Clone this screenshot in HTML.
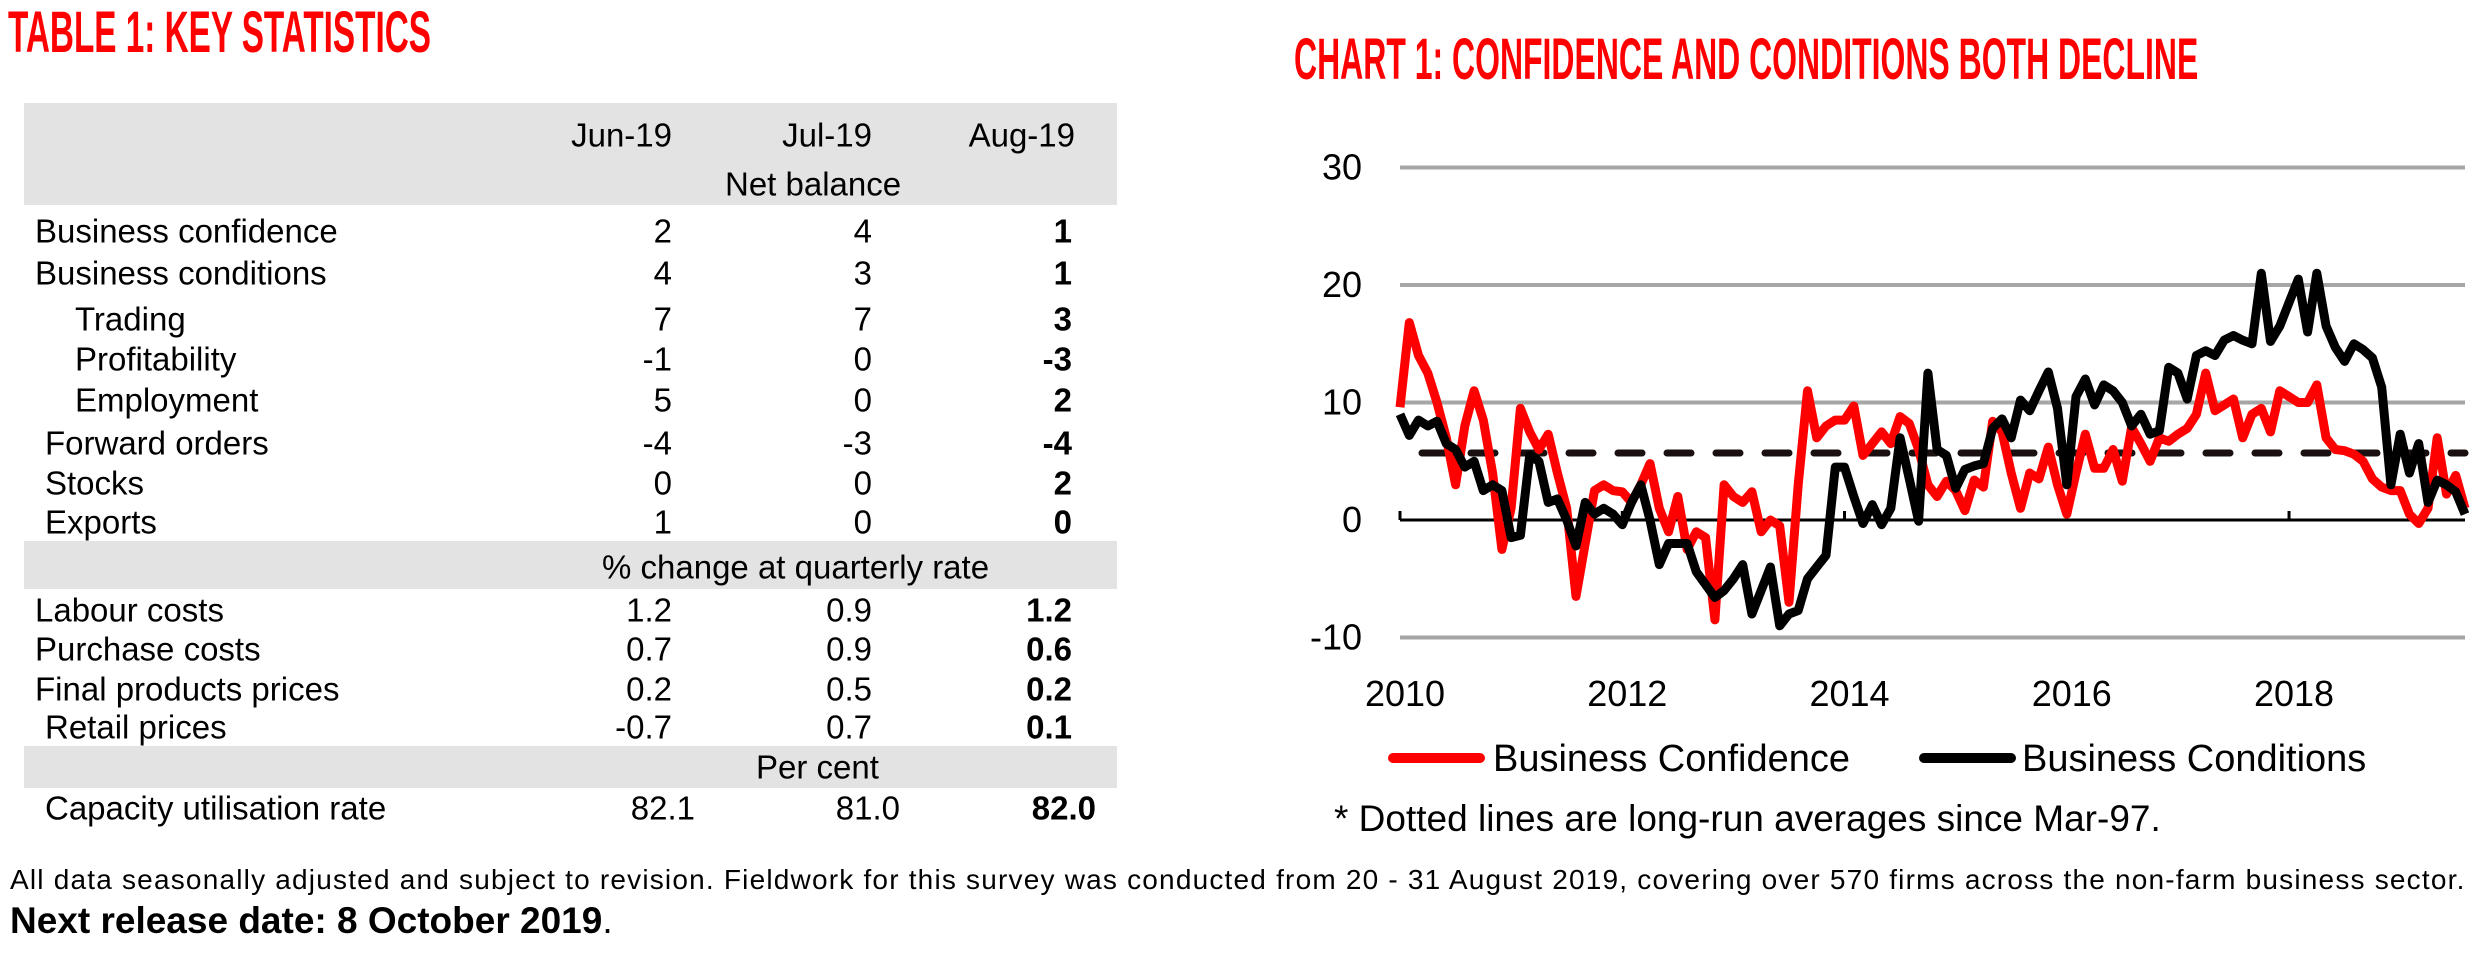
<!DOCTYPE html>
<html><head><meta charset="utf-8"><style>
body{margin:0;width:2490px;height:960px;background:#fff;position:relative;overflow:hidden;font-family:"Liberation Sans",sans-serif;color:#000}
.t{position:absolute;white-space:nowrap;line-height:1}
.title{color:#ff0000;font-weight:bold;font-size:58px;transform-origin:0 0}
.row{position:absolute;left:0;width:1120px;font-size:33px;line-height:1}
.row span{position:absolute;white-space:nowrap;transform:translateY(-50%)}
.v{text-align:right;width:120px}
.band{position:absolute;left:24px;width:1093px;background:#e3e3e3}
</style></head><body>
<div class="t title" style="left:8px;top:4px;transform:scaleX(0.574)">TABLE 1: KEY STATISTICS</div>
<div class="t title" style="left:1294px;top:31px;transform:scaleX(0.551)">CHART 1: CONFIDENCE AND CONDITIONS BOTH DECLINE</div>

<div class="band" style="top:103px;height:102px"></div>
<div class="band" style="top:541px;height:48px"></div>
<div class="band" style="top:746px;height:42px"></div>

<div>
<div class="row" style="top:135px"><span class="v" style="left:552px">Jun-19</span><span class="v" style="left:752px">Jul-19</span><span class="v" style="left:955px">Aug-19</span></div>
<div class="row" style="top:184px"><span style="left:725px">Net balance</span></div>
<div class="row" style="top:231px"><span style="left:35px">Business confidence</span><span class="v" style="left:552px">2</span><span class="v" style="left:752px">4</span><span class="v" style="left:952px;font-weight:bold">1</span></div>
<div class="row" style="top:273px"><span style="left:35px">Business conditions</span><span class="v" style="left:552px">4</span><span class="v" style="left:752px">3</span><span class="v" style="left:952px;font-weight:bold">1</span></div>
<div class="row" style="top:319px"><span style="left:75px">Trading</span><span class="v" style="left:552px">7</span><span class="v" style="left:752px">7</span><span class="v" style="left:952px;font-weight:bold">3</span></div>
<div class="row" style="top:359px"><span style="left:75px">Profitability</span><span class="v" style="left:552px">-1</span><span class="v" style="left:752px">0</span><span class="v" style="left:952px;font-weight:bold">-3</span></div>
<div class="row" style="top:400px"><span style="left:75px">Employment</span><span class="v" style="left:552px">5</span><span class="v" style="left:752px">0</span><span class="v" style="left:952px;font-weight:bold">2</span></div>
<div class="row" style="top:443px"><span style="left:45px">Forward orders</span><span class="v" style="left:552px">-4</span><span class="v" style="left:752px">-3</span><span class="v" style="left:952px;font-weight:bold">-4</span></div>
<div class="row" style="top:483px"><span style="left:45px">Stocks</span><span class="v" style="left:552px">0</span><span class="v" style="left:752px">0</span><span class="v" style="left:952px;font-weight:bold">2</span></div>
<div class="row" style="top:522px"><span style="left:45px">Exports</span><span class="v" style="left:552px">1</span><span class="v" style="left:752px">0</span><span class="v" style="left:952px;font-weight:bold">0</span></div>
<div class="row" style="top:567px"><span style="left:602px">% change at quarterly rate</span></div>
<div class="row" style="top:610px"><span style="left:35px">Labour costs</span><span class="v" style="left:552px">1.2</span><span class="v" style="left:752px">0.9</span><span class="v" style="left:952px;font-weight:bold">1.2</span></div>
<div class="row" style="top:649px"><span style="left:35px">Purchase costs</span><span class="v" style="left:552px">0.7</span><span class="v" style="left:752px">0.9</span><span class="v" style="left:952px;font-weight:bold">0.6</span></div>
<div class="row" style="top:689px"><span style="left:35px">Final products prices</span><span class="v" style="left:552px">0.2</span><span class="v" style="left:752px">0.5</span><span class="v" style="left:952px;font-weight:bold">0.2</span></div>
<div class="row" style="top:727px"><span style="left:45px">Retail prices</span><span class="v" style="left:552px">-0.7</span><span class="v" style="left:752px">0.7</span><span class="v" style="left:952px;font-weight:bold">0.1</span></div>
<div class="row" style="top:767px"><span style="left:756px">Per cent</span></div>
<div class="row" style="top:808px"><span style="left:45px">Capacity utilisation rate</span><span class="v" style="left:575px">82.1</span><span class="v" style="left:780px">81.0</span><span class="v" style="left:976px;font-weight:bold">82.0</span></div>
</div>

<div class="t" style="left:10px;top:866px;font-size:28px;letter-spacing:1.2px">All data seasonally adjusted and subject to revision. Fieldwork for this survey was conducted from 20 - 31 August 2019, covering over 570 firms across the non-farm business sector.</div>
<div class="t" style="left:10px;top:902px;font-size:37px"><b>Next release date: 8 October 2019</b>.</div>

<svg id="chart" width="2490" height="960" style="position:absolute;left:0;top:0" xmlns="http://www.w3.org/2000/svg"></svg>

<script>
const yTicks=[30,20,10,0,-10];
const xTickLabels=["2010","2012","2014","2016","2018"];
const longRunAvg=5.7;
const confidence=[9.6,16.8,14,12.5,10,7,3,8,11,8.5,4,-2.5,1,9.5,7.5,6,7.3,4,1,-6.5,-2,2.5,3,2.5,2.4,1.5,3,4.8,1,-1,
2,-2.5,-1,-1.5,-8.5,3,2,1.5,2.4,-1,0,-0.5,-7,3,11,7,8,8.5,8.5,9.7,5.5,6.5,7.5,6.5,8.8,8.2,6,3,2,3.3,
2.5,0.8,3.4,2.8,8.4,7.5,4,1,4,3.5,6.2,3,0.5,4,7.3,4.4,4.4,6,3.3,7.9,6.5,5,7,6.7,7.3,7.8,9,12.5,9.3,9.8,
10.3,7,9,9.5,7.5,11,10.5,10,10,11.5,7,6,5.9,5.6,5,3.5,2.8,2.5,2.5,0.5,-0.3,1,7,2.2,3.8,1];
const conditions=[9,7.2,8.5,8,8.4,6.5,6,4.5,5,2.5,3,2.5,-1.5,-1.3,5.5,5,1.5,1.8,0,-2.2,1.5,0.5,1,0.5,-0.4,1.5,3,0,-3.8,-2,
-2,-2,-4.4,-5.5,-6.6,-6,-5,-3.8,-8,-6,-4,-9,-8,-7.7,-5,-4,-3,4.5,4.5,2,-0.3,1.3,-0.4,1,7,3.5,-0.1,12.5,6,5.5,
2.7,4.3,4.6,4.8,7.8,8.6,7,10.2,9.3,11,12.6,9.5,3,10.5,12,9.8,11.5,11,10,8,9,7.3,7.6,13,12.5,10.3,14,14.4,14,15.3,
15.7,15.3,15,21,15.2,16.5,18.5,20.5,16,21,16.5,14.7,13.5,15,14.5,13.8,11.3,3,7.3,4,6.5,1.5,3.4,3,2.4,0.5];

const svg=document.getElementById('chart');
const NS='http://www.w3.org/2000/svg';
const X0=1400,X1=2465,Y0=520,PX=11.75;
const n=confidence.length;
function yScale(v){return Y0-v*PX;}
function xScale(i){return X0+i*(X1-X0)/(n-1);}
function mk(tag,attrs){const e=document.createElementNS(NS,tag);for(const k in attrs)e.setAttribute(k,attrs[k]);svg.appendChild(e);return e;}

yTicks.forEach(v=>{
  if(v!==0){const g=mk('line',{x1:X0,x2:X1,y1:yScale(v),y2:yScale(v),stroke:'#a6a6a6','stroke-width':4});
  
  }
  const t=mk('text',{x:1362,y:yScale(v)+12,'text-anchor':'end','font-size':36,'font-family':'Liberation Sans, sans-serif'});
  t.textContent=String(v);
  
  
});
const zl=mk('line',{x1:X0,x2:X1,y1:yScale(0),y2:yScale(0),stroke:'#000','stroke-width':3});


xTickLabels.forEach((lab,k)=>{
  const tx=X0+k*24*(X1-X0)/(n-1);
  const tk=mk('line',{x1:tx,x2:tx,y1:yScale(0)-9,y2:yScale(0),stroke:'#000','stroke-width':3});
  
  
  const t=mk('text',{x:tx+5,y:706,'text-anchor':'middle','font-size':36,'font-family':'Liberation Sans, sans-serif'});
  t.textContent=lab;
  
  
});
const avg=mk('line',{x1:X0,x2:X1,y1:yScale(longRunAvg),y2:yScale(longRunAvg),stroke:'#1a1010','stroke-width':7,'stroke-dasharray':'24 25','stroke-linecap':'round','stroke-dashoffset':'-22'});


function path(arr,color,name){
  const d=arr.map((v,i)=>(i?'L':'M')+xScale(i).toFixed(1)+' '+yScale(v).toFixed(1)).join(' ');
  const p=mk('path',{d:d,fill:'none',stroke:color,'stroke-width':9,'stroke-linejoin':'round'});
  
  
}
path(confidence,'#ff0000','business-confidence-line');
path(conditions,'#000000','business-conditions-line');

const l1=mk('line',{x1:1393,x2:1480,y1:758,y2:758,stroke:'#ff0000','stroke-width':10,'stroke-linecap':'round'});


const t1=mk('text',{x:1493,y:771,'font-size':38,'font-family':'Liberation Sans, sans-serif'});
t1.textContent='Business Confidence';


const l2=mk('line',{x1:1924,x2:2011,y1:758,y2:758,stroke:'#000','stroke-width':10,'stroke-linecap':'round'});


const t2=mk('text',{x:2022,y:771,'font-size':38,'font-family':'Liberation Sans, sans-serif'});
t2.textContent='Business Conditions';


const nt=mk('text',{x:1334,y:831,'font-size':37,'font-family':'Liberation Sans, sans-serif'});
nt.textContent='* Dotted lines are long-run averages since Mar-97.';


</script>
</body></html>
